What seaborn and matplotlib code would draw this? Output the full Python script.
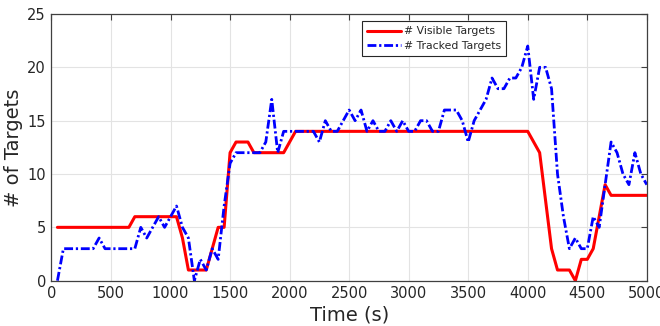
import matplotlib
matplotlib.use("Agg")
import matplotlib.pyplot as plt
import pandas as pd
import seaborn as sns

# Number of targets visible to the sensor over time
visible_time = [50, 650, 700, 1050, 1100, 1150, 1300, 1400, 1450, 1500,
                1550, 1650, 1700, 1950, 2050, 4000, 4100, 4200, 4250, 4350,
                4400, 4450, 4500, 4550, 4650, 4700, 5000]
visible_count = [5, 5, 6, 6, 4, 1, 1, 5, 5, 12,
                 13, 13, 12, 12, 14, 14, 12, 3, 1, 1,
                 0, 2, 2, 3, 9, 8, 8]

# Number of targets held by the tracker over time
tracked_time = [50, 100, 350, 400, 450, 700, 750, 800, 900, 950,
                1050, 1100, 1150, 1200, 1250, 1300, 1350, 1400, 1450, 1500,
                1550, 1750, 1800, 1850, 1900, 1950, 2200, 2250, 2300, 2350,
                2400, 2500, 2550, 2600, 2650, 2700, 2750, 2800, 2850, 2900,
                2950, 3000, 3050, 3100, 3150, 3200, 3250, 3300, 3400, 3450,
                3500, 3550, 3600, 3650, 3700, 3750, 3800, 3850, 3900, 3950,
                4000, 4050, 4100, 4150, 4200, 4250, 4300, 4350, 4400, 4450,
                4500, 4550, 4600, 4650, 4700, 4750, 4800, 4850, 4900, 4950,
                5000]
tracked_count = [0, 3, 3, 4, 3, 3, 5, 4, 6, 5,
                 7, 5, 4, 0, 2, 1, 3, 2, 7, 11,
                 12, 12, 13, 17, 12, 14, 14, 13, 15, 14,
                 14, 16, 15, 16, 14, 15, 14, 14, 15, 14,
                 15, 14, 14, 15, 15, 14, 14, 16, 16, 15,
                 13, 15, 16, 17, 19, 18, 18, 19, 19, 20,
                 22, 17, 20, 20, 18, 10, 6, 3, 4, 3,
                 3, 6, 5, 9, 13, 12, 10, 9, 12, 10,
                 9]

x_ticks = list(range(0, 5001, 500))
y_ticks = list(range(0, 26, 5))

sns.set_style("white")
plt.rcParams["font.family"] = ["DejaVu Sans"]

visible_df = pd.DataFrame({"Time": visible_time, "Count": visible_count})
tracked_df = pd.DataFrame({"Time": tracked_time, "Count": tracked_count})

fig = plt.figure(figsize=(6.6, 3.26), dpi=100)
ax = fig.add_axes([0.078, 0.139, 0.902, 0.818])

sns.lineplot(data=visible_df, x="Time", y="Count", ax=ax, color="#ff0000",
             linewidth=2.2, label="# Visible Targets")
sns.lineplot(data=tracked_df, x="Time", y="Count", ax=ax, color="#0000ff",
             linewidth=2.0, linestyle=(0, (3.2, 1.0, 0.8, 1.0)),
             label="# Tracked Targets")

ax.set_xlim(0, 5000)
ax.set_ylim(0, 25)
ax.set_xticks(x_ticks)
ax.set_yticks(y_ticks)
ax.grid(True, color="#e3e3e3", linewidth=0.8)
ax.set_axisbelow(True)

edge = "#404040"
for side in ["left", "right", "top", "bottom"]:
    ax.spines[side].set_visible(True)
    ax.spines[side].set_color(edge)
    ax.spines[side].set_linewidth(0.9)
ax.tick_params(direction="in", top=True, right=True, length=4, width=0.8,
               color=edge, labelcolor="#262626", labelsize=10.5, pad=4)

ax.set_xlabel("Time (s)", fontsize=14, color="#262626", labelpad=3)
ax.set_ylabel("# of Targets", fontsize=14, color="#262626", labelpad=3)

leg = ax.legend(loc="upper left", bbox_to_anchor=(0.522, 0.972), fontsize=7.8,
                frameon=True, fancybox=False, edgecolor="#262626",
                framealpha=1, borderpad=0.45, labelspacing=0.45,
                handlelength=3.1, handletextpad=0.35, borderaxespad=0)
leg.get_frame().set_linewidth(0.8)
for txt in leg.get_texts():
    txt.set_color("#262626")

fig.savefig("out.png", dpi=100)
